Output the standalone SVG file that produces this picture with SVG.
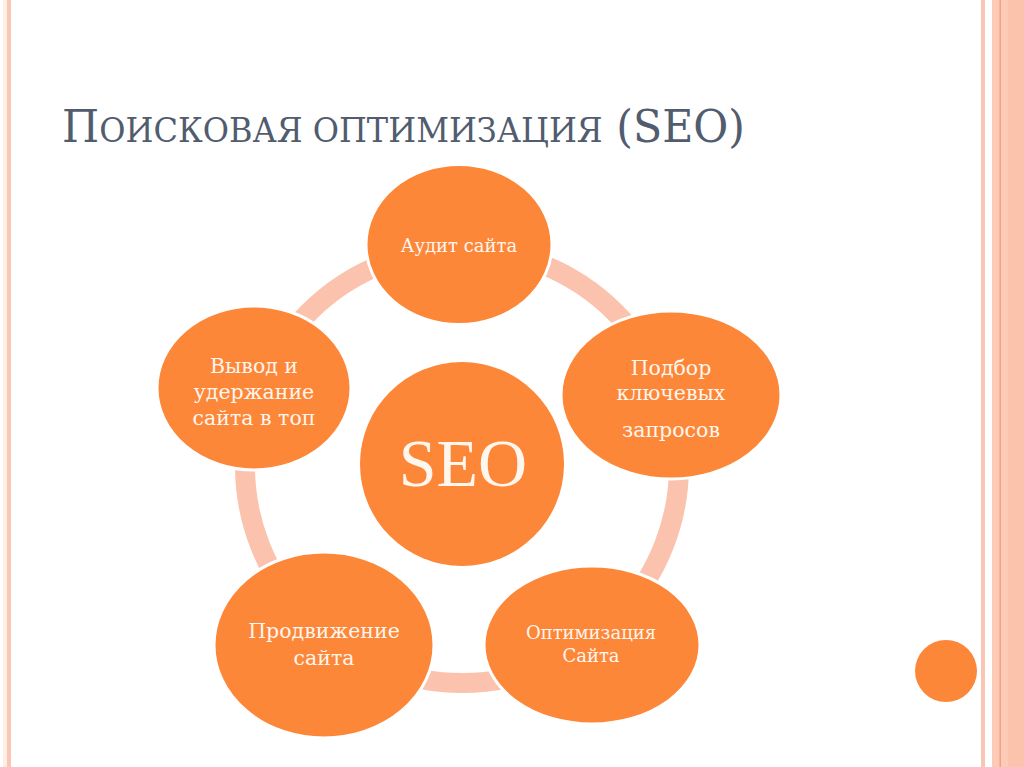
<svg xmlns="http://www.w3.org/2000/svg" width="1024" height="767" viewBox="0 0 1024 767">
<style>
.node{fill:#FD8739;stroke:#FFFFFF;stroke-width:3}
.lbl{font-family:"DejaVu Serif",serif;fill:#FFF6EE;text-anchor:middle}
.seo{font-family:"Liberation Serif","DejaVu Serif",serif;fill:#FFF6EE;text-anchor:middle}
.title{font-family:"DejaVu Serif",serif;fill:#515C6E}
.sc{text-transform:uppercase}
</style>
<rect width="1024" height="767" fill="#FFFFFF"/>
<g id="border">
<rect x="3" y="0" width="4" height="767" fill="#FEEEE8"/>
<rect x="7" y="0" width="4" height="767" fill="#FBC6B3"/>
<rect x="981" y="0" width="4" height="767" fill="#F9C6B6"/>
<rect x="992" y="0" width="32" height="767" fill="#FCCBB8"/>
<rect x="1008" y="0" width="16" height="767" fill="#FBC2AC"/>
<rect x="999.5" y="0" width="1.5" height="767" fill="#F2A27F"/>
</g>
<text class="title" x="62" y="142" font-size="44" textLength="683" lengthAdjust="spacingAndGlyphs">П<tspan class="sc" font-size="33">оисковая оптимизация</tspan> (SEO)</text>
<g id="connectors">
<circle cx="462" cy="466" r="217" fill="none" stroke="#FBC3AE" stroke-width="20"/>
</g>
<g id="node-seo">
<circle cx="462" cy="464" r="102" fill="#FD8739"/>
<text class="seo" x="463" y="486" font-size="68">SEO</text>
</g>
<g id="node-audit">
<ellipse class="node" cx="459" cy="244.5" rx="93" ry="80"/>
<text class="lbl" x="459" y="252" font-size="18">Аудит сайта</text>
</g>
<g id="node-keywords">
<ellipse class="node" cx="671" cy="395" rx="110" ry="84"/>
<text class="lbl" font-size="20.5"><tspan x="671" y="375">Подбор</tspan><tspan x="671" y="400">ключевых</tspan><tspan x="671" y="437">запросов</tspan></text>
</g>
<g id="node-optimization">
<ellipse class="node" cx="592" cy="645" rx="108" ry="79"/>
<text class="lbl" font-size="18"><tspan x="591" y="639">Оптимизация</tspan><tspan x="591" y="662">Сайта</tspan></text>
</g>
<g id="node-promotion">
<ellipse class="node" cx="324" cy="645" rx="110" ry="93"/>
<text class="lbl" font-size="20.5"><tspan x="324" y="638">Продвижение</tspan><tspan x="324" y="665">сайта</tspan></text>
</g>
<g id="node-top">
<ellipse class="node" cx="254" cy="388" rx="97" ry="82"/>
<text class="lbl" font-size="20.5"><tspan x="254" y="373">Вывод и</tspan><tspan x="254" y="399">удержание</tspan><tspan x="254" y="425">сайта в топ</tspan></text>
</g>
<g id="deco">
<circle cx="946" cy="671" r="31" fill="#FD8739"/>
</g>
</svg>
